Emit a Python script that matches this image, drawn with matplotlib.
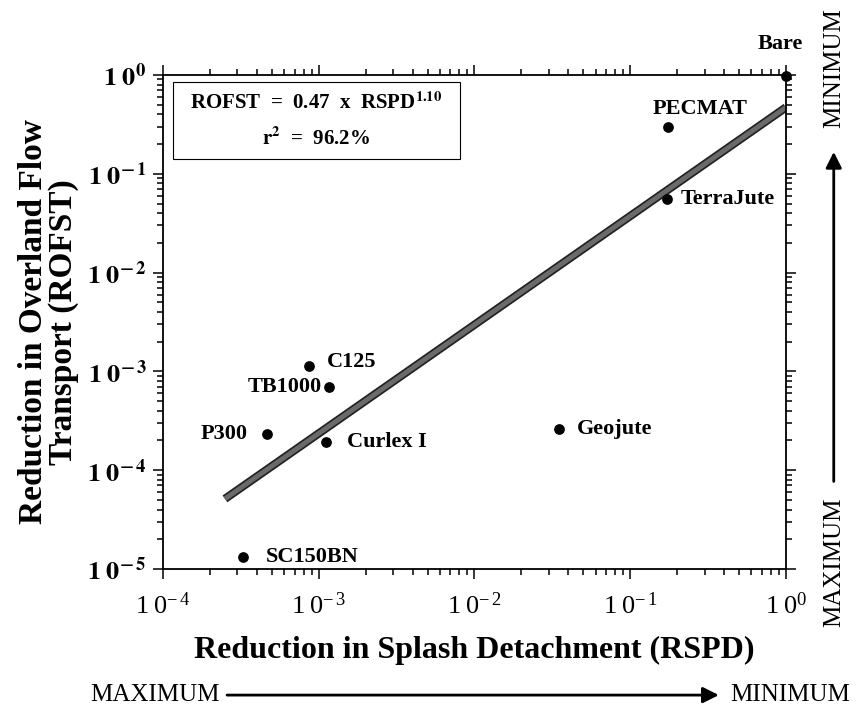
import numpy as np
import matplotlib
matplotlib.use("Agg")
import matplotlib.pyplot as plt
from matplotlib.patches import Rectangle, FancyArrowPatch
from matplotlib.ticker import LogLocator, FuncFormatter, NullFormatter

plt.rcParams["font.family"] = ["Liberation Serif", "DejaVu Serif"]
plt.rcParams["mathtext.fontset"] = "stix"

# treatments: reduction in splash detachment (x) and overland flow transport (y)
names = ["Bare", "PECMAT", "TerraJute", "C125", "TB1000", "P300", "Curlex I", "Geojute", "SC150BN"]
rspd = [1.0, 0.175, 0.172, 8.65e-4, 1.16e-3, 4.65e-4, 1.11e-3, 0.0349, 3.27e-4]
rofst = [0.97, 0.298, 0.0556, 1.13e-3, 6.95e-4, 2.32e-4, 1.93e-4, 2.61e-4, 1.32e-5]

# label offsets in points (dx, dy, ha)
label_offsets = [(-4, 23, "center"), (-11, 13, "left"), (10, 0, "left"), (13, 3, "left"),
                 (-5, 0, "right"), (-14, 0, "right"), (15, 0, "left"), (13, 0, "left"), (16, 0, "left")]

fit_coef = 0.47
fit_exp = 1.10
fit_xmin, fit_xmax = 2.5e-4, 1.0

fig = plt.figure(figsize=(8.56, 7.10), dpi=100)
ax = fig.add_axes([0.1904, 0.1986, 0.7278, 0.6958])
ax.set_xscale("log")
ax.set_yscale("log")
ax.set_xlim(1e-4, 1.0)
ax.set_ylim(1e-5, 1.0)

fx = np.logspace(np.log10(fit_xmin), np.log10(fit_xmax), 50)
ax.plot(fx, fit_coef * fx ** fit_exp, color="#222222", lw=6, solid_capstyle="butt", zorder=2)
ax.plot(fx, fit_coef * fx ** fit_exp, color="#6a6a6a", lw=3.5, solid_capstyle="butt", zorder=2)

ax.scatter(rspd, rofst, s=45, color="black", zorder=4, clip_on=False)
for n, x, y, (dx, dy, ha) in zip(names, rspd, rofst, label_offsets):
    ax.annotate(n, (x, y), xytext=(dx, dy), textcoords="offset points", ha=ha, va="center",
                fontsize=16, fontweight="bold", zorder=5, annotation_clip=False)

for side in ["top", "right", "bottom", "left"]:
    ax.spines[side].set_linewidth(1.3)

ax.tick_params(which="both", direction="out", top=True, right=True, width=1.1)
ax.tick_params(which="major", length=7)
ax.tick_params(which="minor", length=4)
ax.xaxis.set_major_locator(LogLocator(base=10, numticks=10))
ax.yaxis.set_major_locator(LogLocator(base=10, numticks=10))
ax.xaxis.set_minor_locator(LogLocator(base=10, subs=np.arange(2, 10), numticks=20))
ax.yaxis.set_minor_locator(LogLocator(base=10, subs=np.arange(2, 10), numticks=20))
ax.xaxis.set_minor_formatter(NullFormatter())
ax.yaxis.set_minor_formatter(NullFormatter())


def xfmt(v, pos):
    e = int(round(np.log10(v)))
    if e == 0:
        return r"$\mathregular{1\;0^{0}}$"
    return r"$\mathregular{1\;0^{-\,%d}}$" % (-e)


def yfmt(v, pos):
    e = int(round(np.log10(v)))
    if e == 0:
        return r"$\mathbf{1\;0^{0}}$"
    return r"$\mathbf{1\;0^{-\,%d}}$" % (-e)


ax.xaxis.set_major_formatter(FuncFormatter(xfmt))
ax.yaxis.set_major_formatter(FuncFormatter(yfmt))
for lbl in ax.get_xticklabels():
    lbl.set_fontsize(19)
for lbl in ax.get_yticklabels():
    lbl.set_fontsize(19)
ax.tick_params(axis="x", pad=10)
ax.tick_params(axis="y", pad=5)

ax.set_xlabel("Reduction in Splash Detachment (RSPD)", fontsize=23, fontweight="bold", labelpad=12)
ax.set_ylabel("Reduction in Overland Flow\nTransport (ROFST)", fontsize=24, fontweight="bold",
              labelpad=6, linespacing=0.95)

# equation box
ax.add_patch(Rectangle((0.016, 0.830), 0.46, 0.156, transform=ax.transAxes, fc="white",
                       ec="black", lw=0.8, zorder=6))
ax.text(0.246, 0.943, "ROFST  =  0.47  x  RSPD$^{\\mathbf{1.10}}$", transform=ax.transAxes,
        ha="center", va="center", fontsize=15, fontweight="bold", zorder=7)
ax.text(0.246, 0.872, "$\\mathbf{r^2}$  =  96.2%", transform=ax.transAxes,
        ha="center", va="center", fontsize=15, fontweight="bold", zorder=7)

# direction arrows outside the axes
fig.text(0.105, 0.021, "MAXIMUM", fontsize=18, ha="left", va="center")
fig.text(0.993, 0.021, "MINIMUM", fontsize=18, ha="right", va="center")
fig.add_artist(FancyArrowPatch((0.262, 0.021), (0.843, 0.021), transform=fig.transFigure,
                               arrowstyle="-|>", mutation_scale=24, lw=2, color="black"))
fig.text(0.974, 0.117, "MAXIMUM", fontsize=18, rotation=90, ha="center", va="bottom")
fig.text(0.974, 0.988, "MINIMUM", fontsize=18, rotation=90, ha="center", va="top")
fig.add_artist(FancyArrowPatch((0.974, 0.318), (0.974, 0.79), transform=fig.transFigure,
                               arrowstyle="-|>", mutation_scale=24, lw=2, color="black"))

fig.savefig("out.png", dpi=100)
